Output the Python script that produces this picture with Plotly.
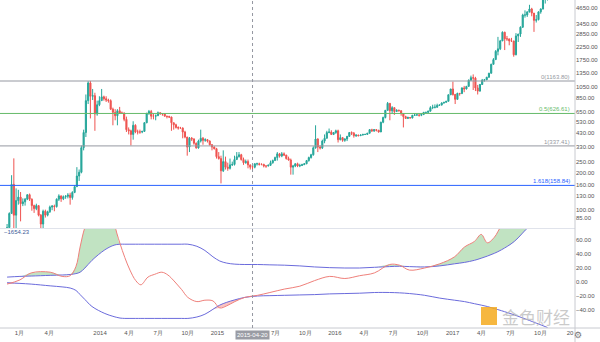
import numpy as np
import pandas as pd
import plotly.graph_objects as go

# ---------------- data ----------------
first_week = "2013-03-18"
first_open = 47

close = [71, 93, 162, 90, 119, 127, 112, 116, 122, 133, 122, 108, 102, 108, 90, 76, 97, 90, 96, 105,
         107, 106, 122, 130, 123, 128, 129, 132, 126, 139, 155, 190, 204, 326, 436, 800, 1120, 870, 880, 620,
         740, 800,
         860, 830, 810, 800, 680, 640, 600, 660, 630, 630, 560, 460, 450, 420, 500, 440, 440, 440, 445, 525,
         630, 650, 595, 595, 600, 635, 625, 620, 595, 590, 585, 525, 505, 480, 475, 475, 440, 400, 330, 390,
         385, 355, 325, 370, 390, 375, 380, 370, 345, 330, 320, 275,
         265, 210, 250, 225, 220, 235, 237, 260, 275, 285, 260, 245, 250, 235, 225, 225, 240, 240, 237, 237,
         230, 230, 233, 245, 255, 270, 290, 278, 290, 283, 265, 258, 225, 230, 240, 230, 232, 236, 240, 255,
         270, 285, 325, 385, 330, 325, 370, 390, 435, 440, 420, 435,
         450, 380, 395, 375, 385, 405, 435, 430, 410, 415, 410, 415, 420, 420, 430, 460, 450, 460, 455, 440,
         530, 580, 665, 760, 660, 700, 650, 665, 660, 625, 590, 570, 580, 575, 605, 608, 610, 605, 615, 640,
         640, 655, 700, 705, 705, 730, 735, 765, 775, 790, 895, 1000,
         900, 820, 920, 915, 1020, 1000, 1050, 1180, 1240, 1230, 1020, 960, 1090, 1180, 1190, 1250, 1350, 1600,
         1750, 2050, 2150, 2500, 2950, 2600, 2600, 2500, 2500, 1920, 2750, 2850, 3250, 4100, 4100, 4350, 4600,
         4250, 3700, 3750, 4350, 4600, 5700, 6000, 6150]

high = [76, 95, 193, 266, 150, 146, 140, 124, 125, 134, 136, 124, 110, 112, 108, 92, 100, 100, 98, 108,
        109, 110, 124, 134, 131, 131, 132, 137, 138, 142, 160, 225, 215, 340, 460, 900, 1160, 1165, 1000, 930,
        800, 870,
        1000, 880, 870, 830, 820, 700, 680, 680, 710, 650, 640, 590, 480, 460, 540, 510, 460, 460, 450, 530,
        630, 670, 670, 620, 615, 650, 640, 630, 625, 600, 600, 590, 525, 515, 490, 485, 480, 450, 400, 400,
        400, 390, 360, 380, 460, 400, 390, 385, 375, 350, 335, 325,
        300, 280, 310, 275, 245, 265, 250, 280, 300, 300, 290, 270, 260, 260, 235, 237, 242, 245, 245, 242,
        240, 232, 237, 255, 260, 275, 300, 295, 300, 298, 285, 275, 265, 235, 242, 245, 240, 240, 242, 258,
        275, 290, 335, 500, 390, 340, 380, 420, 450, 470, 455, 440,
        460, 460, 420, 400, 390, 408, 440, 445, 440, 420, 418, 420, 425, 425, 432, 465, 468, 465, 462, 458,
        535, 590, 670, 780, 760, 720, 700, 680, 675, 665, 630, 600, 590, 585, 610, 630, 615, 612, 620, 645,
        645, 660, 720, 740, 745, 755, 745, 775, 780, 795, 900, 1000,
        1150, 910, 930, 925, 1030, 1060, 1060, 1200, 1290, 1320, 1260, 1080, 1100, 1210, 1210, 1260, 1360, 1620,
        1800, 2100, 2700, 2550, 3000, 2980, 2750, 2600, 2650, 2500, 2900, 2860, 3300, 4200, 4480, 4400, 4980,
        4700, 4200, 4100, 4400, 4650, 5850, 6200, 6300]

low = [47, 70, 92, 50, 70, 110, 80, 107, 108, 120, 118, 98, 94, 99, 88, 65, 70, 86, 88, 94,
       99, 97, 104, 118, 116, 120, 123, 124, 110, 121, 137, 154, 173, 200, 310, 400, 750, 570, 810, 450,
       600, 720,
       800, 800, 780, 770, 670, 500, 550, 500, 620, 620, 540, 440, 420, 340, 380, 430, 420, 425, 430, 445,
       520, 610, 560, 560, 550, 600, 610, 600, 590, 570, 575, 450, 460, 470, 460, 470, 390, 390, 280, 300,
       370, 345, 320, 320, 360, 345, 365, 360, 340, 310, 315, 265,
       260, 165, 205, 215, 210, 215, 230, 232, 260, 270, 255, 235, 240, 220, 215, 215, 220, 232, 232, 233,
       224, 222, 228, 230, 240, 255, 255, 270, 272, 278, 260, 255, 195, 195, 225, 225, 225, 230, 234, 238,
       250, 265, 280, 320, 300, 315, 318, 355, 390, 430, 415, 415,
       425, 360, 375, 365, 365, 370, 400, 415, 395, 400, 405, 410, 412, 415, 420, 428, 440, 440, 445, 435,
       440, 520, 570, 660, 550, 620, 610, 650, 650, 600, 480, 565, 565, 570, 570, 600, 600, 590, 595, 607,
       630, 630, 650, 680, 690, 700, 725, 730, 755, 770, 790, 890,
       880, 750, 820, 880, 910, 940, 990, 1050, 1170, 980, 960, 900, 950, 1080, 1150, 1190, 1240, 1340,
       1600, 1750, 1900, 2100, 2500, 2100, 2500, 2300, 2450, 1850, 1900, 2450, 2700, 3200, 3900, 3950, 4300,
       4000, 2970, 3550, 3700, 4200, 4550, 5100, 5400]

# Fibonacci retracement levels
fib_levels = ["0", "0.5", "1", "1.618"]
fib_prices = [1163.80, 626.61, 337.41, 158.84]
fib_colors = ["#9598a1", "#66bb6a", "#9598a1", "#2962ff"]

# price axis labels
price_ticks = [4650, 3450, 2850, 2250, 1750, 1350, 1050, 850, 650, 530, 430, 330, 250, 200, 160, 130, 100, 85]

# indicator (oscillator with bands)
ind_dates = ["2013-03-18", "2013-04-27", "2013-06-01", "2013-07-30", "2013-09-05", "2013-09-30", "2013-10-18",
             "2013-10-31", "2013-11-15", "2013-12-07", "2014-01-16", "2014-02-10", "2014-02-22", "2014-03-04",
             "2014-03-19", "2014-04-04", "2014-04-22", "2014-05-08", "2014-05-30", "2014-06-20", "2014-07-12",
             "2014-07-31", "2014-08-22", "2014-09-12", "2014-10-01", "2014-10-29", "2014-11-23", "2014-12-18",
             "2015-01-08", "2015-01-30", "2015-02-24", "2015-03-27", "2015-05-06", "2015-06-13", "2015-07-29",
             "2015-09-14", "2015-10-30", "2015-12-16", "2016-02-01", "2016-03-18", "2016-05-03", "2016-06-19",
             "2016-07-20", "2016-08-20", "2016-10-06", "2016-11-22", "2017-01-07", "2017-02-07", "2017-03-10",
             "2017-03-31", "2017-04-19", "2017-05-11", "2017-06-02", "2017-07-12", "2017-08-28", "2017-10-23"]
ind_upper = [7, 8, 8.5, 9.5, 10, 10.7, 12, 14, 20, 31, 46, 52, 53.5, 54, 54, 54, 54, 54, 54, 54, 54, 54, 54, 54,
             54, 51, 45, 36, 30, 27, 25.5, 25, 25, 24.5, 24, 23, 21.5, 20.5, 20, 20, 21, 22, 22.5, 22, 21.5, 23,
             26, 28, 31, 34, 37, 41, 46, 58, 80, 100]
ind_lower = [-1, -2, -3, -5.5, -7, -8.6, -12, -18, -25, -35, -45, -49, -50.5, -51.5, -52, -52, -52, -52, -52,
             -52, -52, -52, -52, -52, -52, -50, -46, -39, -33, -29, -25.5, -22, -20, -19.5, -19, -18.5, -18, -17,
             -16.5, -16, -15, -15, -15.5, -16.5, -19, -23, -26, -28, -31, -33, -35, -38, -41, -47, -55, -65]
ind_line = [-3, 3, 13, 14, 8, 9, 22, 50, 78, 100, 110, 90, 70, 55, 35, 17, 2, -4, 7, 11, 14, 10, 0, -11, -22,
            -28, -26, -27, -37, -34, -28, -22, -19, -15, -10, -6, 2, 8, 5, 9, 13, 25, 24, 17, 20, 26, 36, 50, 58,
            68, 56, 64, 80, 95, 110, 115]
ind_ticks = [60, 40, 20, 0, -20, -40]
ind_caption = "\u22121654.23"

# time axis labels
x_tick_dates = ["2013-04-25", "2013-07-27", "2014-01-01", "2014-04-01", "2014-07-01", "2014-10-01", "2015-01-01",
                "2015-07-01", "2015-10-01", "2016-01-01", "2016-04-01", "2016-07-01", "2016-10-01", "2017-01-01",
                "2017-04-01", "2017-07-01", "2017-10-01", "2018-01-01"]
x_tick_text = ["1月", "4月", "2014", "4月", "7月", "10月", "2015", "7月", "10月", "2016", "4月", "7月", "10月",
               "2017", "4月", "7月", "10月", "20"]
cursor_date = "2015-04-20"
x_range = ["2013-02-24", "2018-01-16 12:00"]

# ---------------- figure ----------------
UP = "#26a69a"
DN = "#ef5350"
BAND = "#6b6bdc"
OSC = "#ef7f7a"
FONT = "Liberation Sans"

dates = pd.date_range(first_week, periods=len(close), freq="7D")
opens = [first_open] + close[:-1]

fig = go.Figure()

fig.add_trace(go.Candlestick(
    x=dates, open=opens, high=high, low=low, close=close,
    increasing=dict(line=dict(color=UP, width=1), fillcolor=UP),
    decreasing=dict(line=dict(color=DN, width=1), fillcolor=DN),
    whiskerwidth=0, xaxis="x", yaxis="y", showlegend=False, hoverinfo="skip"))

for lvl, p, c in zip(fib_levels, fib_prices, fib_colors):
    fig.add_shape(type="line", xref="x domain", yref="y", x0=0, x1=1,
                  y0=float(p), y1=float(p), line=dict(color=c, width=1), layer="above")
    fig.add_annotation(x=0.995, xref="paper", y=float(np.log10(p)), yref="y", text=f"{lvl}({p:.2f})",
                       showarrow=False, xanchor="right", yanchor="bottom", yshift=-1,
                       font=dict(size=6, color=c, family=FONT))

upper_hi = [max(a, b) for a, b in zip(ind_line, ind_upper)]
lower_lo = [min(a, b) for a, b in zip(ind_line, ind_lower)]

fig.add_trace(go.Scatter(x=ind_dates, y=ind_upper, mode="lines", line=dict(color=BAND, width=1, shape="spline"),
                         xaxis="x2", yaxis="y2", showlegend=False, hoverinfo="skip"))
fig.add_trace(go.Scatter(x=ind_dates, y=upper_hi, mode="lines", line=dict(width=0, shape="spline"),
                         fill="tonexty", fillcolor="rgba(76,175,80,0.35)",
                         xaxis="x2", yaxis="y2", showlegend=False, hoverinfo="skip"))
fig.add_trace(go.Scatter(x=ind_dates, y=ind_lower, mode="lines", line=dict(color=BAND, width=1, shape="spline"),
                         xaxis="x2", yaxis="y2", showlegend=False, hoverinfo="skip"))
fig.add_trace(go.Scatter(x=ind_dates, y=lower_lo, mode="lines", line=dict(width=0, shape="spline"),
                         fill="tonexty", fillcolor="rgba(239,83,80,0.35)",
                         xaxis="x2", yaxis="y2", showlegend=False, hoverinfo="skip"))
fig.add_trace(go.Scatter(x=ind_dates, y=ind_line, mode="lines", line=dict(color=OSC, width=1, shape="spline"),
                         xaxis="x2", yaxis="y2", showlegend=False, hoverinfo="skip"))

PLOT_H = 328.0
price_bottom = 1 - 228 / PLOT_H
ind_top = 1 - 229 / PLOT_H

fig.update_layout(
    width=600, height=342,
    margin=dict(l=0, r=25, t=0, b=14),
    paper_bgcolor="white", plot_bgcolor="white",
    font=dict(family=FONT, size=6, color="#555555"),
    showlegend=False,
    xaxis=dict(domain=[0, 1], anchor="y", range=x_range, matches="x2", showticklabels=False,
               showgrid=False, zeroline=False, rangeslider=dict(visible=False), automargin=False),
    xaxis2=dict(domain=[0, 1], anchor="y2", range=x_range, showgrid=False, zeroline=False,
                tickmode="array", tickvals=x_tick_dates, ticktext=x_tick_text, ticks="",
                tickfont=dict(size=6, color="#555555"), automargin=False, rangeslider=dict(visible=False)),
    yaxis=dict(domain=[price_bottom, 1], anchor="x", type="log",
               range=[1.848, 3.737], side="right", showgrid=False, zeroline=False,
               tickmode="array", tickvals=price_ticks, ticktext=[f"{v:.2f}" for v in price_ticks],
               ticks="", tickfont=dict(size=6, color="#555555"), automargin=False),
    yaxis2=dict(domain=[0, ind_top], anchor="x2", range=[-65.7, 75.7], side="right", showgrid=False,
                zeroline=False, tickmode="array", tickvals=ind_ticks,
                ticktext=[f"{v:.2f}".replace("-", "\u2212") for v in ind_ticks],
                ticks="", tickfont=dict(size=6, color="#555555"), automargin=False),
)

# frame lines
sep_y = 1 - 228.5 / PLOT_H
fig.add_shape(type="line", xref="paper", yref="paper", x0=0, x1=1, y0=sep_y, y1=sep_y,
              line=dict(color="#e0e3eb", width=1))
fig.add_shape(type="line", xref="paper", yref="paper", x0=1, x1=1, y0=-0.05, y1=1,
              line=dict(color="#c8cad0", width=1))
fig.add_shape(type="line", xref="paper", yref="paper", x0=0, x1=600 / 575, y0=0, y1=0,
              line=dict(color="#c8cad0", width=1))

# cursor
fig.add_shape(type="line", xref="x", yref="paper", x0=cursor_date, x1=cursor_date, y0=0, y1=1,
              line=dict(color="#9598a1", width=1, dash="dot"))
fig.add_annotation(x=cursor_date, xref="x", y=-0.022, yref="paper", text=cursor_date, showarrow=False,
                   bgcolor="#9a9ca4", font=dict(size=6, color="white", family=FONT), borderpad=1,
                   yanchor="middle")

# indicator caption
fig.add_annotation(x=0.003, xref="paper", y=1 - 232 / PLOT_H, yref="paper", text=ind_caption,
                   showarrow=False, xanchor="left", yanchor="middle",
                   font=dict(size=6, color="#3d5a98", family=FONT))

# settings icon
fig.add_annotation(x=584 / 575, xref="paper", y=-0.022, yref="paper", text="\u2699", showarrow=False,
                   font=dict(size=9, color="#777777", family="DejaVu Sans"), yanchor="middle")

# watermark
fig.add_shape(type="rect", xref="paper", yref="paper", x0=481 / 575, x1=497 / 575,
              y0=(PLOT_H - 325) / PLOT_H, y1=(PLOT_H - 307) / PLOT_H,
              fillcolor="rgba(245,170,30,0.85)", line=dict(width=0))
fig.add_annotation(x=500 / 575, xref="paper", y=(PLOT_H - 316) / PLOT_H, yref="paper", text="金色财经",
                   showarrow=False, xanchor="left", yanchor="middle",
                   font=dict(size=17, color="rgba(185,185,185,0.75)", family="Noto Sans CJK SC"))

fig.write_html("out.html")
